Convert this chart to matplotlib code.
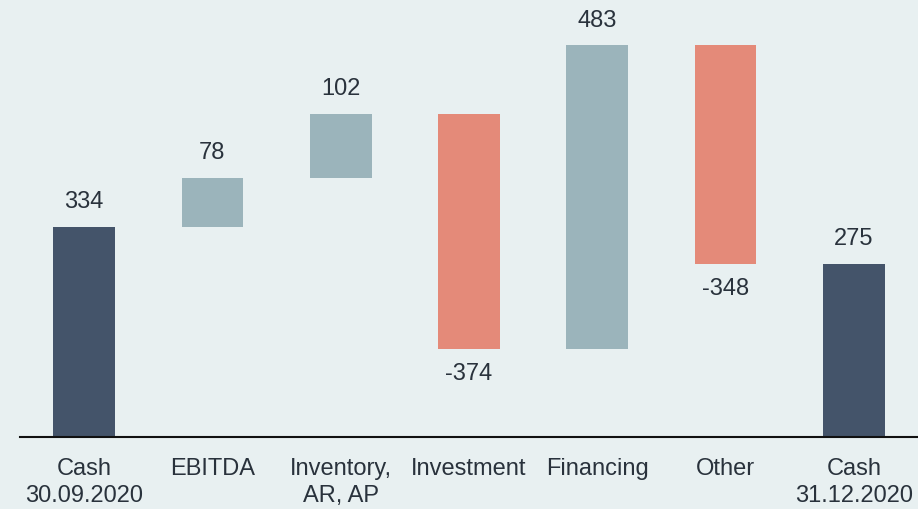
import matplotlib.pyplot as plt
import numpy as np

categories = ['Cash\n30.09.2020', 'EBITDA', 'Inventory,\nAR, AP', 'Investment',
              'Financing', 'Other', 'Cash\n31.12.2020']
changes = [334, 78, 102, -374, 483, -348, 275]
kinds = ['total', 'delta', 'delta', 'delta', 'delta', 'delta', 'total']

bg = '#e8f0f1'
c_total = '#44546a'
c_up = '#9bb4bb'
c_down = '#e48a79'
txt = '#29323c'

plt.rcParams['font.family'] = ['Liberation Sans', 'DejaVu Sans']

fig = plt.figure(figsize=(9.18, 5.09), dpi=100, facecolor=bg)
ax = fig.add_axes([20 / 918, 72 / 509, 898 / 918, 440 / 509])
ax.set_facecolor(bg)

# waterfall bottoms / heights
bottoms, heights, colors = [], [], []
running = 0
for val, kind in zip(changes, kinds):
    if kind == 'total':
        bottoms.append(0)
        heights.append(val)
        colors.append(c_total)
        running = val
    else:
        if val >= 0:
            bottoms.append(running)
            colors.append(c_up)
        else:
            bottoms.append(running + val)
            colors.append(c_down)
        heights.append(abs(val))
        running += val

x = np.arange(len(categories))
ax.bar(x, heights, bottom=bottoms, width=0.48, color=colors)

for xi, val, b, h in zip(x, changes, bottoms, heights):
    if val >= 0:
        ax.annotate(f'{val}', (xi, b + h), xytext=(0, 10), textcoords='offset points',
                    ha='center', va='bottom', fontsize=17, color=txt)
    else:
        ax.annotate(f'{val}', (xi, b), xytext=(0, -10), textcoords='offset points',
                    ha='center', va='top', fontsize=17, color=txt)

ax.set_xlim(-0.5, len(categories) - 0.5)
ax.set_ylim(0, 700)
ax.set_xticks(x)
ax.set_xticklabels(categories, fontsize=17, color=txt, linespacing=1.3)
ax.tick_params(axis='x', length=0, pad=15)
ax.set_yticks([])
for s in ['top', 'right', 'left']:
    ax.spines[s].set_visible(False)
ax.spines['bottom'].set_color('#111111')
ax.spines['bottom'].set_linewidth(1.5)

fig.savefig('out.png', dpi=100, facecolor=bg)
